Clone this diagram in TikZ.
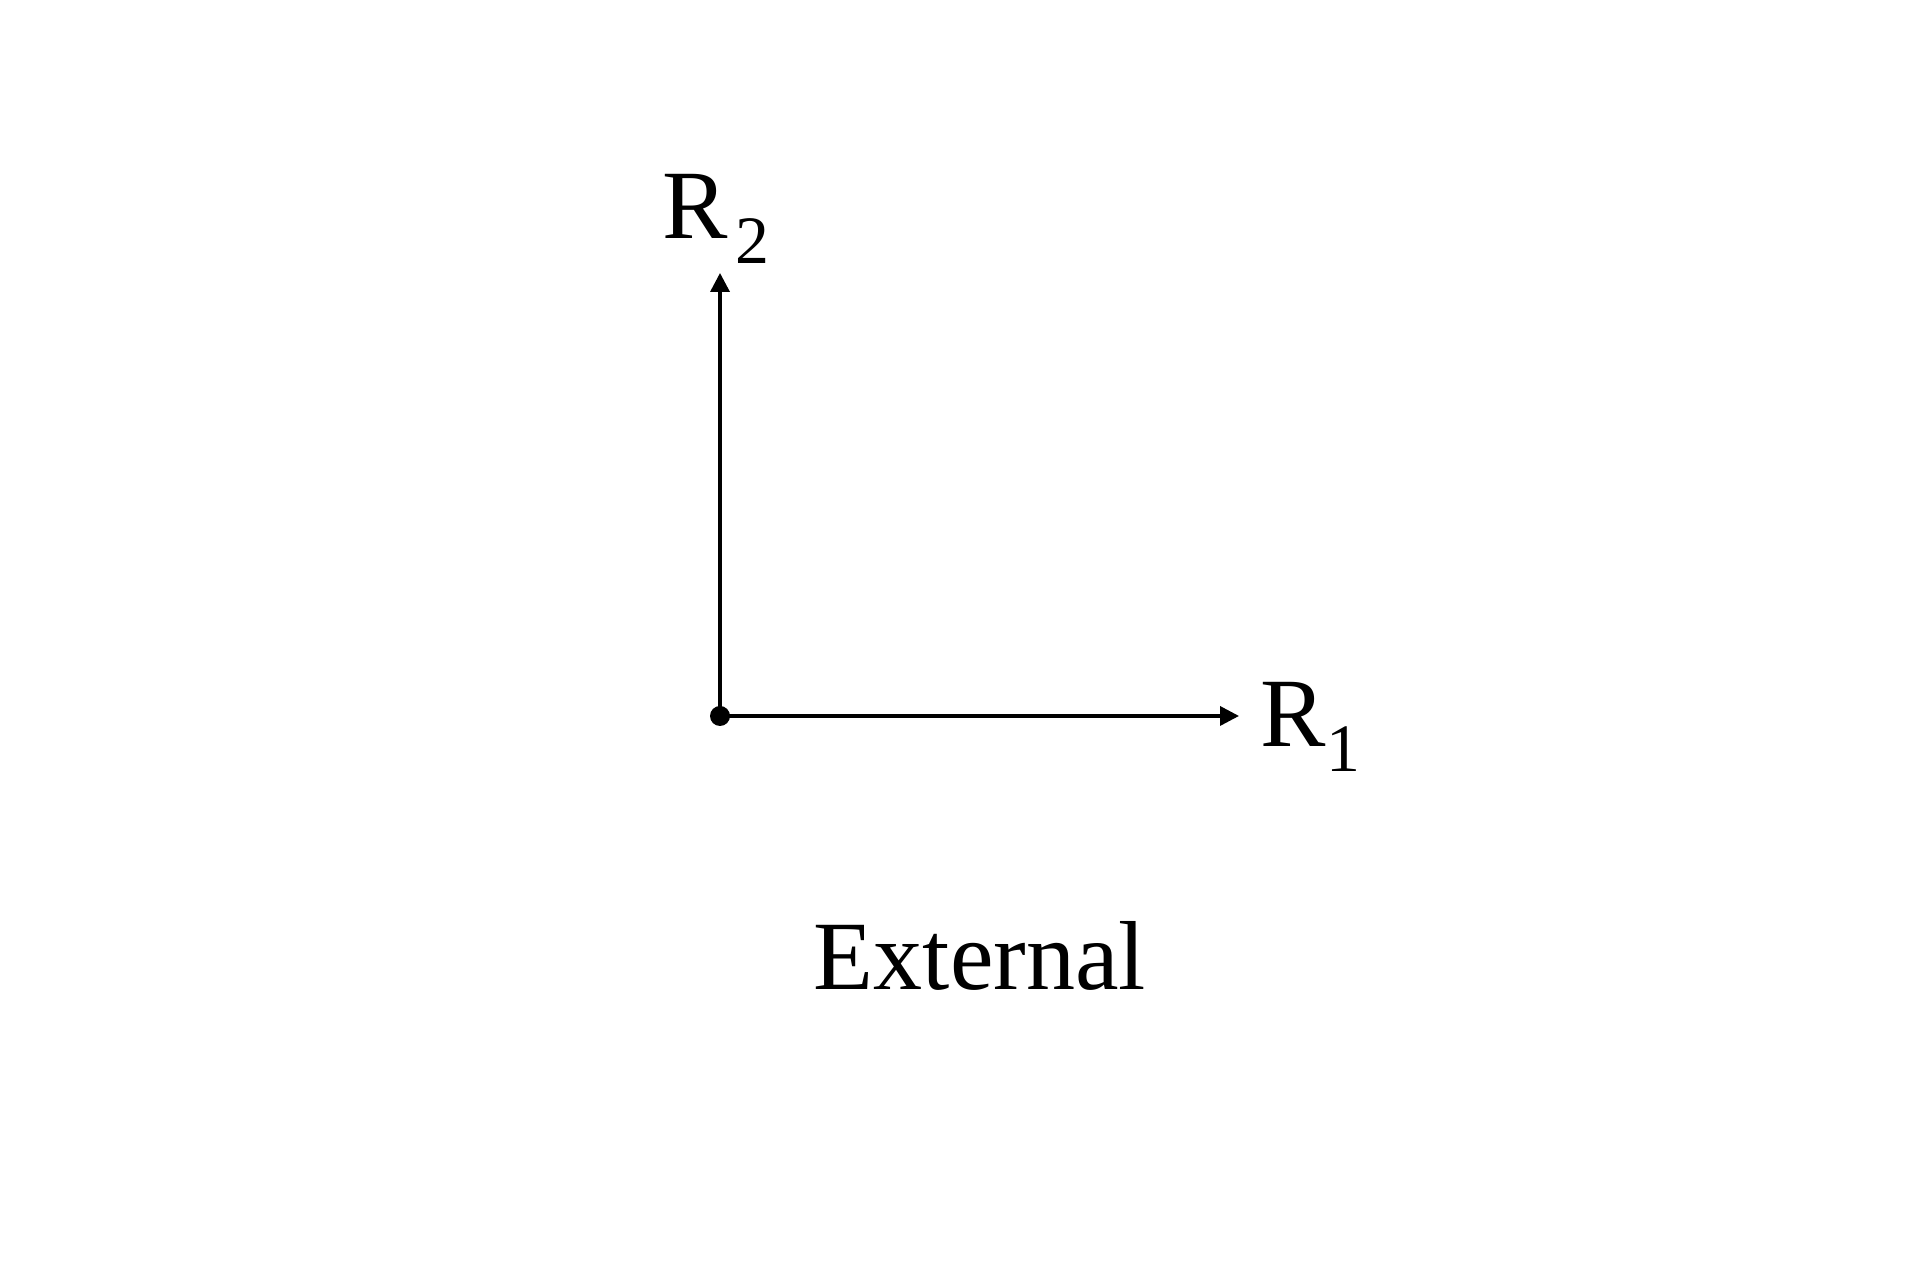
\documentclass[tikz,border=0pt]{standalone}
\usepackage{fontspec}
\setmainfont{Liberation Serif}
\usetikzlibrary{arrows.meta}
\newcommand\lowidx[1]{\raisebox{-0.245cm}{\fontsize{19.3}{22}\selectfont #1}}
\begin{document}
\begin{tikzpicture}[every node/.style={inner sep=0pt,font=\fontsize{27.9}{32}\selectfont},
    axis/.style={line width=1pt,-{Triangle[length=0.19cm,width=0.19cm]}}]
    \useasboundingbox (0,0) rectangle (19.2,12.8);
    \coordinate (origin) at (7.20,5.64);
    \coordinate (r1tip) at (12.39,5.64);
    \coordinate (r2tip) at (7.20,10.07);
    \draw[axis] (origin) -- (r1tip);
    \draw[axis] (origin) -- (r2tip);
    \fill (origin) circle (0.1);
    \node[anchor=base west] (r1) at (12.60,5.33) {R\lowidx{1}};
    \node[anchor=base west] (r2) at (6.62,10.41) {R\kern0.07cm\lowidx{2}};
    \node[anchor=base] (ext) at (9.80,2.90) {External};
\end{tikzpicture}
\end{document}
